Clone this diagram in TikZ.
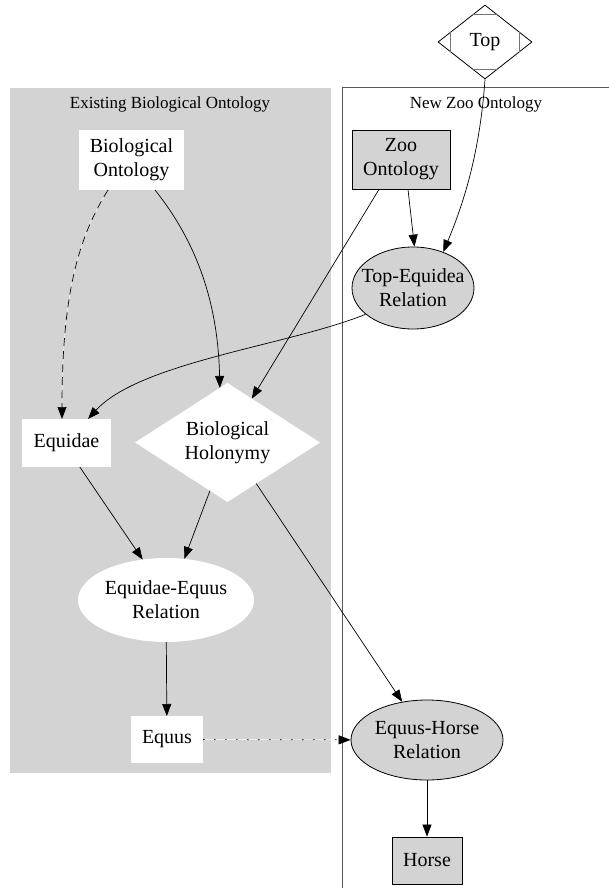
\documentclass[tikz,border=0pt]{standalone}
\usepackage{fontspec}
\setmainfont{Liberation Serif}
\usetikzlibrary{shapes.geometric,arrows.meta,calc}
\definecolor{clustergray}{RGB}{211,211,211}
\definecolor{nodegray}{RGB}{211,211,211}
\tikzset{
  lbl/.style={font=\fontsize{20}{24}\selectfont, align=center, inner sep=0pt},
  clusterlbl/.style={font=\fontsize{17}{20}\selectfont, inner sep=0pt},
  shapetext/.style={label={[lbl]center:#1}},
  plainbox/.style={lbl, rectangle, fill=white, outer sep=0pt},
  greybox/.style={lbl, rectangle, fill=nodegray, draw=black, line width=0.8pt},
  plainoval/.style={ellipse, fill=white, inner sep=0pt, outer sep=0pt},
  greyoval/.style={ellipse, fill=nodegray, draw=black, line width=0.8pt, inner sep=0pt},
  plaindiamond/.style={diamond, fill=white, inner sep=0pt, outer sep=0pt},
  link/.style={-{Triangle[length=12pt,width=9pt]}, line width=0.7pt, black},
  dashedlink/.style={link, dash pattern=on 8pt off 5pt, preaction={draw=white, solid}},
  dottedlink/.style={link, dash pattern=on 1.5pt off 9.5pt, preaction={draw=white, solid}},
}
\begin{document}
\begin{tikzpicture}[x=1pt,y=-1pt]
\useasboundingbox (0,0) rectangle (609,888);
\fill[white] (0,0) rectangle (609,888);

% clusters
\fill[clustergray] (10,88) rectangle (331,773);
\draw[black!65, line width=1pt] (609,88) -- (342,88) -- (342,888);
\node[clusterlbl] (lblbio) at (170,104) {Existing Biological Ontology};
\node[clusterlbl] (lblzoo) at (476,104) {New Zoo Ontology};

% nodes
\node[lbl, diamond, draw=black, line width=0.8pt, fill=white,
      minimum width=94pt, minimum height=74pt] (top) at (485,42) {Top};
\draw[black!55, line width=0.8pt]
  ($(top.north)!0.27!(top.west)$) -- ($(top.north)!0.27!(top.east)$)
  ($(top.south)!0.27!(top.west)$) -- ($(top.south)!0.27!(top.east)$)
  ($(top.west)!0.27!(top.north)$) -- ($(top.west)!0.27!(top.south)$)
  ($(top.east)!0.27!(top.north)$) -- ($(top.east)!0.27!(top.south)$);

\node[plainbox, minimum width=105pt, minimum height=60pt] (bo) at (131.5,160) {Biological\\Ontology};
\node[greybox, minimum width=98pt, minimum height=59pt] (zoo) at (401,159.5) {Zoo\\Ontology};
\node[greyoval, minimum width=122pt, minimum height=82pt,
      shapetext={Top-Equidea\\Relation}] (teq) at (413,288) {};
\node[plainbox, minimum width=89pt, minimum height=48pt] (equidae) at (66.5,443) {Equidae};
\node[plaindiamond, minimum width=185pt, minimum height=119pt,
      shapetext={Biological\\Holonymy}] (hol) at (227.5,442.5) {};
\node[plainoval, minimum width=176pt, minimum height=84pt,
      shapetext={Equidae-Equus\\Relation}] (eeq) at (166,600) {};
\node[plainbox, minimum width=72pt, minimum height=47pt] (equus) at (167,739.5) {Equus};
\node[greyoval, minimum width=152pt, minimum height=80pt,
      shapetext={Equus-Horse\\Relation}] (eh) at (427,740) {};
\node[greybox, minimum width=70pt, minimum height=47pt] (horse) at (427,860.5) {Horse};

% connectors
\draw[link] (top.south) .. controls (480,150) and (465,200) .. (teq.50);
\draw[link] ($(zoo.south)+(7,0)$) -- (teq.88);
\draw[link] ($(zoo.south)+(-22,0)$) -- (hol.61);
\draw[link] ($(bo.south)+(23.5,0)$) .. controls (195,240) and (218,300) .. (hol.98);
\draw[dashedlink] ($(bo.south)+(-23.5,0)$) .. controls (78,238) and (62,295) .. ($(equidae.north)+(-4.5,0)$);
\draw[link] (teq.209) .. controls (290,345) and (140,362) .. ($(equidae.north)+(21.5,0)$);
\draw[link] (equidae.-61) -- (eeq.120);
\draw[link] (hol.-110) -- (eeq.66);
\draw[link] (hol.-55) -- (eh.123);
\draw[link] (eeq) -- (equus);
\draw[dottedlink] (equus) -- (eh);
\draw[link] (eh) -- (horse);
\end{tikzpicture}
\end{document}
